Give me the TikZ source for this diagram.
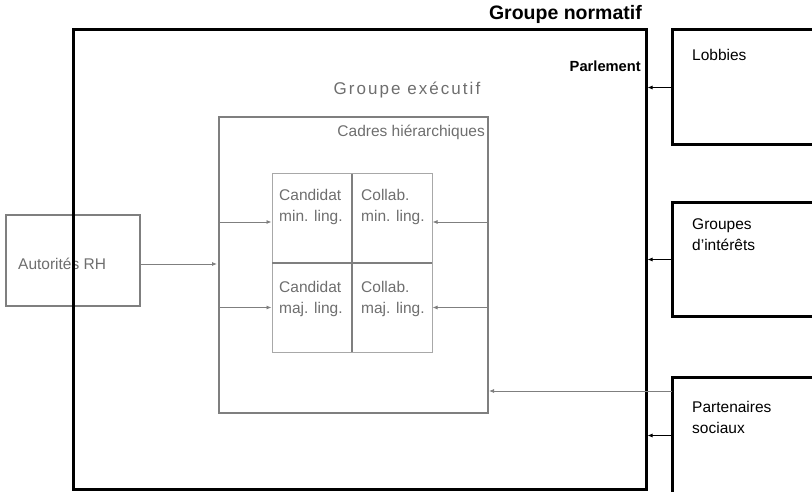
\documentclass[tikz,border=0pt]{standalone}
\usepackage{fontspec}
\setmainfont{Liberation Sans}
\newfontfamily\espacefont[LetterSpace=12]{Liberation Sans}
\usetikzlibrary{arrows.meta}

\definecolor{grisfonce}{HTML}{7F7F7F}
\definecolor{grisclair}{HTML}{A8A8A8}
\definecolor{gristexte}{HTML}{6E6E6E}

\tikzset{
  boitenoire/.style={draw=black, line width=3pt, rectangle, inner sep=0pt, outer sep=0pt, anchor=north west},
  boitegrise/.style={draw=grisfonce, line width=2pt, rectangle, inner sep=0pt, outer sep=0pt, anchor=north west},
  casegrille/.style={draw=grisclair, line width=1pt, rectangle, inner sep=0pt, outer sep=0pt, anchor=north west,
    minimum width=80pt, minimum height=89pt},
  texte/.style={font=\fontsize{15.5}{21}\selectfont, inner sep=0pt, align=left},
  fleche/.style={draw=grisfonce, line width=0.8pt, -{Latex[length=5pt,width=4pt]}},
  flechenoire/.style={draw=black, line width=0.8pt, -{Latex[length=5pt,width=4pt]}},
}

\begin{document}
\begin{tikzpicture}[x=1pt,y=-1pt]
  \useasboundingbox (0,0) rectangle (812,492);

  % Autorites RH, sous le cadre du groupe normatif
  \node[boitegrise, minimum width=134pt, minimum height=91pt] (autorites) at (6,215) {};
  \node[texte, text=gristexte, anchor=west] (autoritestxt) at (18,264) {Autorités RH};

  % Groupe normatif
  \node[boitenoire, minimum width=573pt, minimum height=459pt] (normatif) at (73,30) {};
  \node[font=\bfseries\fontsize{19.5}{22}\selectfont, inner sep=0pt, anchor=base east] (normatiftitre) at (642,20) {Groupe normatif};
  \node[font=\bfseries\fontsize{14.7}{17}\selectfont, inner sep=0pt, anchor=base east] (parlement) at (641,72) {Parlement};

  % Groupe executif et grille des cadres
  \node[boitegrise, minimum width=269pt, minimum height=296pt] (executif) at (219,117) {};
  \node[font=\espacefont\fontsize{17}{20}\selectfont, text=gristexte, inner sep=0pt, anchor=base] (executiftitre) at (407,95) {Groupe exécutif};
  \node[texte, text=gristexte, anchor=base east] (cadres) at (485,137) {Cadres hiérarchiques};

  \node[casegrille] (cmin) at (272,174) {};
  \node[casegrille] (kmin) at (352,174) {};
  \node[casegrille] (cmaj) at (272,263) {};
  \node[casegrille] (kmaj) at (352,263) {};
  \draw[grisfonce, line width=1.2pt] (cmin.north east) -- (cmaj.south east);
  \draw[grisfonce, line width=1.2pt] (cmin.south west) -- (kmin.south east);

  % le point de base est celui de la derniere ligne
  \node[texte, text=gristexte, anchor=base west] (cmintxt) at (279,222) {Candidat\\min. ling.};
  \node[texte, text=gristexte, anchor=base west] (kmintxt) at (361,222) {Collab.\\min. ling.};
  \node[texte, text=gristexte, anchor=base west] (cmajtxt) at (279,313) {Candidat\\maj. ling.};
  \node[texte, text=gristexte, anchor=base west] (kmajtxt) at (361,313) {Collab.\\maj. ling.};

  % Acteurs externes
  \node[boitenoire, minimum width=160pt, minimum height=115pt] (lobbies) at (672,30) {};
  \node[boitenoire, minimum width=160pt, minimum height=113pt] (groupes) at (672,203) {};
  \node[boitenoire, minimum width=160pt, minimum height=117pt] (partenaires) at (672,377) {};
  \node[texte, anchor=base west] (lobbiestxt) at (692,61) {Lobbies};
  \node[texte, anchor=base west] (groupestxt) at (692,251) {Groupes\\d'intérêts};
  \node[texte, anchor=base west] (partenairestxt) at (692,433) {Partenaires\\sociaux};

  % Fleches
  \draw[flechenoire, shorten >=1.5pt] (lobbies.west) -- (lobbies.west -| normatif.east);
  \draw[flechenoire, shorten >=1.5pt] (groupes.west) -- (groupes.west -| normatif.east);
  \draw[flechenoire, shorten >=1.5pt] (partenaires.west) -- (partenaires.west -| normatif.east);
  \draw[fleche, shorten >=1pt] ([yshift=-14pt]partenaires.north west) coordinate (p1) -- (p1 -| executif.east);

  \path ([yshift=-3.5pt]autorites.east) coordinate (a1);
  \draw[fleche, shorten >=2pt] (a1) -- (a1 -| executif.west);

  \path ([yshift=-3.5pt]cmin.west) coordinate (e1);
  \path ([yshift=-3.5pt]kmin.east) coordinate (e2);
  \draw[fleche, shorten >=0.5pt] (e1 -| executif.west) -- (e1);
  \draw[fleche, shorten >=0.5pt] (e2 -| executif.east) -- (e2);
  \draw[fleche, shorten >=0.5pt] (cmaj.west -| executif.west) -- (cmaj.west);
  \draw[fleche, shorten >=0.5pt] (kmaj.east -| executif.east) -- (kmaj.east);
\end{tikzpicture}
\end{document}
